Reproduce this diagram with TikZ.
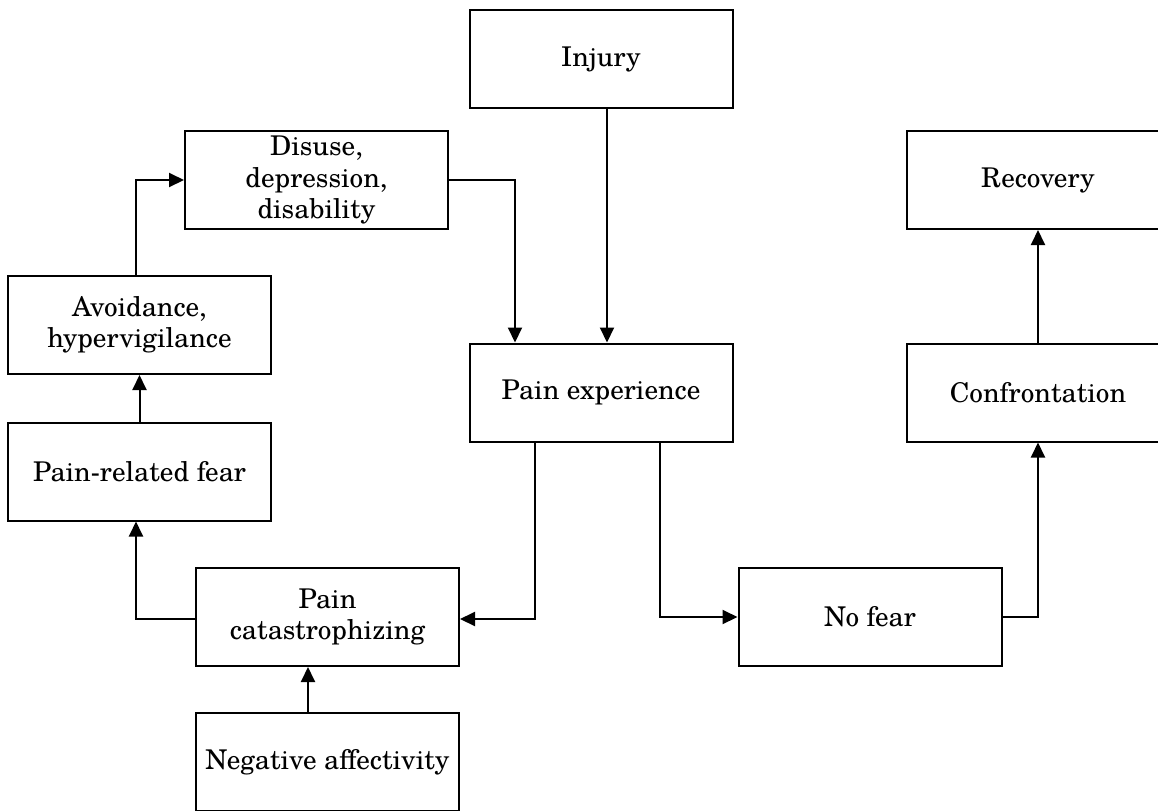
\documentclass[tikz,border=0pt]{standalone}
\usepackage{fontspec}
\setmainfont{TeX Gyre Schola}
\usetikzlibrary{arrows.meta}
\tikzset{
  box/.style={draw, line width=1pt, minimum width=131.5pt, minimum height=49pt,
    inner sep=0pt, align=center, font=\fontsize{13.6}{15.75}\selectfont},
  arr/.style={line width=1pt, -{Triangle[length=7.5pt,width=7pt]}}
}
\begin{document}
\begin{tikzpicture}[x=0.5pt, y=-0.5pt]
\useasboundingbox (0,0) rectangle (1158,810);
\clip (0,0) rectangle (1158,810);
% boxes
\node[box] (injury)   at (601,59)     {Injury};
\node[box] (disuse)   at (316.5,180)  {Disuse,\\depression,\\disability};
\node[box] (avoid)    at (139.5,325)  {Avoidance,\\hypervigilance};
\node[box] (fear)     at (139.5,471.5){Pain-related fear};
\node[box] (pcat)     at (327.5,617)  {Pain\\catastrophizing};
\node[box] (neg)      at (327.5,762)  {Negative affectivity};
\node[box] (pexp)     at (601,392.5)  {Pain experience};
\node[box] (nofear)   at (870,617)    {No fear};
\node[box] (confront) at (1038,392.5) {Confrontation};
\node[box] (recovery) at (1038,180)   {Recovery};
% connectors
\draw[arr] ([xshift=3pt]injury.south) -- ([xshift=3pt]pexp.north);
\draw[arr] ([xshift=-1.75pt]avoid.north) |- (disuse.west);
\draw[arr] (disuse.east) -| ([xshift=-43pt]pexp.north);
\draw[arr] (fear.north) -- (avoid.south);
\draw[arr] ([yshift=-1pt]pcat.west) -| ([xshift=-1.75pt]fear.south);
\draw[arr] ([xshift=-33pt]pexp.south) |- ([yshift=-1pt]pcat.east);
\draw[arr] ([xshift=-9.75pt]neg.north) -- ([xshift=-9.75pt]pcat.south);
\draw[arr] ([xshift=29.5pt]pexp.south) |- (nofear.west);
\draw[arr] (nofear.east) -| (confront.south);
\draw[arr] (confront.north) -- (recovery.south);
\end{tikzpicture}
\end{document}
